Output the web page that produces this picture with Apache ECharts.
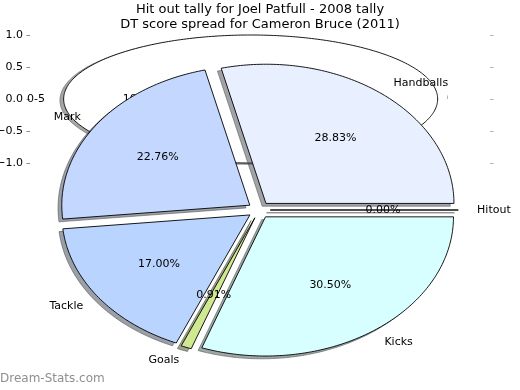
<!DOCTYPE html>
<html><head><meta charset="utf-8">
<script src="https://cdn.jsdelivr.net/npm/echarts@6/dist/echarts.min.js"></script>
<style>html,body{margin:0;padding:0;background:#fff}#c{width:520px;height:390px}</style>
</head><body><div id="c"></div>
<script>
const titleLines = ['Hit out tally for Joel Patfull - 2008 tally', 'DT score spread for Cameron Bruce (2011)'];
const categories = ['Hitout', 'Handballs', 'Mark', 'Tackle', 'Goals', 'Kicks'];
const values = [0.00, 28.83, 22.76, 17.00, 0.91, 30.50];
const backCategories = ['0-5'];
const backValues = [100];
const yTickValues = [-1, -0.5, 0, 0.5, 1];
const xTickValues = [-1, -0.5, 0, 0.5, 1];
const watermark = 'Dream-Stats.com';

const sliceColors = ['#f0f0f0', '#e8f0ff', '#c4d8ff', '#b8d4ff', '#d0e890', '#d8ffff'];
const backColors = ['#ffffff'];
const FONT = 'DejaVu Sans';

function hexRgb(h) { h = h.replace('#', ''); return [0, 2, 4].map(k => parseInt(h.substr(k, 2), 16)); }
function shadowColor(h) { const c = hexRgb(h).map(v => Math.round(v * 0.3)); return 'rgba(' + c.join(',') + ',0.5)'; }

function geometry(vals, explode) {
  const total = vals.reduce((a, b) => a + b, 0);
  let acc = 0;
  return vals.map(v => {
    const t1 = acc / total * 2 * Math.PI; acc += v;
    const t2 = acc / total * 2 * Math.PI;
    const tm = (t1 + t2) / 2;
    return { t1, t2, tm, cx: explode * Math.cos(tm), cy: explode * Math.sin(tm) };
  });
}

function wedgeRender(vals, explode, colors, isShadow) {
  const geo = geometry(vals, explode);
  return function (params, api) {
    const g = geo[params.dataIndex];
    let cx = g.cx, cy = g.cy;
    if (isShadow) { cx -= 0.02; cy -= 0.02; }
    const pts = [];
    const full = (g.t2 - g.t1) >= 2 * Math.PI - 1e-9;
    if (!full) pts.push(api.coord([cx, cy]));
    const n = Math.max(2, Math.ceil((g.t2 - g.t1) / (Math.PI / 180)));
    for (let k = 0; k <= n; k++) {
      const t = g.t1 + (g.t2 - g.t1) * k / n;
      pts.push(api.coord([cx + Math.cos(t), cy + Math.sin(t)]));
    }
    const col = colors[params.dataIndex];
    return {
      type: 'polygon', shape: { points: pts },
      style: isShadow ? { fill: shadowColor(col), stroke: shadowColor(col), lineWidth: 1 }
                      : { fill: col, stroke: '#000', lineWidth: 0.9 }
    };
  };
}

function labelRender(vals, names, explode, pctFmt) {
  const geo = geometry(vals, explode);
  return function (params, api) {
    const g = geo[params.dataIndex];
    const c = Math.cos(g.tm), s = Math.sin(g.tm);
    const lp = api.coord([g.cx + 1.1 * c, g.cy + 1.1 * s]);
    const pp = api.coord([g.cx + 0.6 * c, g.cy + 0.6 * s]);
    return {
      type: 'group', children: [
        { type: 'text', x: lp[0], y: lp[1], style: { text: names[params.dataIndex], fontFamily: FONT, fontSize: 11, fill: '#000', align: c >= 0 ? 'left' : 'right', verticalAlign: 'middle' } },
        { type: 'text', x: pp[0], y: pp[1], style: { text: pctFmt(vals[params.dataIndex]), fontFamily: FONT, fontSize: 11, fill: '#000', align: 'center', verticalAlign: 'middle' } }
      ]
    };
  };
}

const frontData = categories.map((c, i) => ({ name: c, value: [i, values[i]] }));
const backData = backCategories.map((c, i) => ({ name: c, value: [i, backValues[i]] }));
const FRONT_EXPLODE = 0.06, BACK_EXPLODE = 0.05;

const chart = echarts.init(document.getElementById('c'), null, { renderer: 'canvas' });
const tickStyle = { color: '#8c8c8c', width: 1 };
const lightTick = { color: '#b4b4b4', width: 1 };
const backY = { type: 'value', gridIndex: 0, min: -1.1875, max: 1.1875, axisLine: { show: false }, splitLine: { show: false } };
chart.setOption({
  animation: false,
  backgroundColor: '#ffffff',
  title: [
    { text: titleLines[0], left: 'center', top: 2, padding: 0, textStyle: { fontFamily: FONT, fontSize: 13, fontWeight: 'normal', color: '#000', lineHeight: 15 } },
    { text: titleLines[1], left: 'center', top: 17.5, padding: 0, textStyle: { fontFamily: FONT, fontSize: 13, fontWeight: 'normal', color: '#000', lineHeight: 15 } }
  ],
  grid: [
    { left: 30, width: 460, top: 23, height: 152, containLabel: false, outerBoundsMode: 'none' },
    { left: 24, width: 470, top: 36, height: 348, containLabel: false, outerBoundsMode: 'none' }
  ],
  xAxis: [
    { type: 'value', gridIndex: 0, position: 'top', min: -1.23, max: 1.23,
      axisLine: { show: false }, splitLine: { show: false }, axisLabel: { show: false },
      axisTick: { show: true, length: 3.5, customValues: xTickValues, lineStyle: lightTick } },
    { type: 'value', gridIndex: 1, min: -1.25, max: 1.25, show: false }
  ],
  yAxis: [
    Object.assign({}, backY, { position: 'left',
      axisTick: { show: false },
      axisLabel: { show: true, customValues: yTickValues, margin: 7, fontFamily: FONT, fontSize: 11, color: '#000',
        formatter: v => (v < 0 ? '\u2212' : '') + Math.abs(v).toFixed(1) } }),
    Object.assign({}, backY, { position: 'right', axisLabel: { show: false },
      axisTick: { show: true, length: 3.5, customValues: yTickValues, lineStyle: lightTick } }),
    { type: 'value', gridIndex: 1, min: -1.25, max: 1.25, show: false },
    Object.assign({}, backY, { position: 'left', offset: 0, axisLabel: { show: false },
      axisTick: { show: true, length: 3.5, customValues: yTickValues, lineStyle: tickStyle } })
  ],
  series: [
    { type: 'custom', xAxisIndex: 0, yAxisIndex: 0, z: 1, clip: false, silent: true, data: backData,
      renderItem: wedgeRender(backValues, BACK_EXPLODE, backColors, true) },
    { type: 'custom', xAxisIndex: 0, yAxisIndex: 0, z: 2, clip: false, silent: true, data: backData,
      renderItem: wedgeRender(backValues, BACK_EXPLODE, backColors, false) },
    { type: 'custom', xAxisIndex: 0, yAxisIndex: 0, z: 3, clip: false, silent: true, data: backData,
      renderItem: labelRender(backValues, backCategories, BACK_EXPLODE, v => v.toFixed(0) + '%') },
    { type: 'custom', xAxisIndex: 1, yAxisIndex: 2, z: 4, clip: false, silent: true, data: frontData,
      renderItem: wedgeRender(values, FRONT_EXPLODE, sliceColors, true) },
    { type: 'custom', xAxisIndex: 1, yAxisIndex: 2, z: 5, clip: false, silent: true, data: frontData,
      renderItem: wedgeRender(values, FRONT_EXPLODE, sliceColors, false) },
    { type: 'custom', xAxisIndex: 1, yAxisIndex: 2, z: 6, clip: false, silent: true, data: frontData,
      renderItem: labelRender(values, categories, FRONT_EXPLODE, v => v.toFixed(2) + '%') }
  ],
  graphic: [
    { type: 'text', left: 0, top: 373, z: 100, style: { text: watermark, fontFamily: FONT, fontSize: 12, fill: '#8f8f8f' } }
  ]
});
</script>
</body></html>
